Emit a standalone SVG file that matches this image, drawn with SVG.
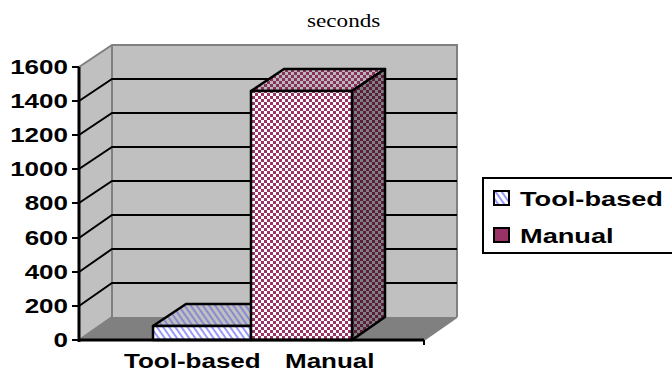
<svg xmlns="http://www.w3.org/2000/svg" width="672" height="374" viewBox="0 0 672 374">
<style>
.lbl{font-family:"Liberation Sans",Arial,sans-serif;font-weight:bold;font-size:20px;fill:#000}
.grid{stroke:#000;stroke-width:2;fill:none}
.edge{stroke:#808080;stroke-width:2;fill:none}
.bar{stroke:#000;stroke-width:2.5;stroke-linejoin:round}
</style>
<defs>
<pattern id="chkFront" width="6" height="6" patternUnits="userSpaceOnUse">
<rect width="6" height="6" fill="#fff"/>
<rect x="0" y="0" width="3" height="3" fill="#993366"/>
<rect x="3" y="3" width="3" height="3" fill="#993366"/>
</pattern>
<pattern id="chkSide" width="6" height="6" patternUnits="userSpaceOnUse">
<rect width="6" height="6" fill="#808080"/>
<rect x="0" y="0" width="3" height="3" fill="#5a1d3b"/>
<rect x="3" y="3" width="3" height="3" fill="#5a1d3b"/>
</pattern>
<pattern id="chkTop" width="6" height="6" patternUnits="userSpaceOnUse">
<rect width="6" height="6" fill="#b8b8b8"/>
<rect x="0" y="0" width="3" height="3" fill="#8a2e5c"/>
<rect x="3" y="3" width="3" height="3" fill="#8a2e5c"/>
</pattern>
<pattern id="hatchFront" width="5" height="10" patternUnits="userSpaceOnUse" patternTransform="rotate(-35)">
<rect width="5" height="10" fill="#fff"/>
<rect x="0" y="0" width="2" height="10" fill="#9999ff"/>
</pattern>
<pattern id="hatchTop" width="5" height="10" patternUnits="userSpaceOnUse" patternTransform="rotate(-35)">
<rect width="5" height="10" fill="#c0c0c0"/>
<rect x="0" y="0" width="2" height="10" fill="#8a8ad0"/>
</pattern>
</defs>

<g id="title">
<text transform="translate(307,27) scale(1.22,1)" style="font-family:'Liberation Serif','Times New Roman',serif;font-size:19px;fill:#000">seconds</text>
</g>

<g id="walls">
<polygon points="79,67 112,45 112,317 79,340" fill="#c0c0c0"/>
<polygon points="112,45 457,45 457,317 112,317" fill="#c0c0c0"/>
<polygon points="79,340 112,317 457,317 424,340" fill="#808080"/>
<polyline class="edge" points="79,67 112,45 457,45 457,317"/>
<line class="edge" x1="112" y1="45" x2="112" y2="317"/>
<line class="edge" x1="79" y1="340" x2="112" y2="317"/>
<line class="edge" x1="424" y1="340" x2="457" y2="317"/>
</g>

<g id="gridlines">
<polyline class="grid" points="79,101 112,79 457,79"/>
<polyline class="grid" points="79,135 112,113 457,113"/>
<polyline class="grid" points="79,169 112,147 457,147"/>
<polyline class="grid" points="79,203 112,181 457,181"/>
<polyline class="grid" points="79,238 112,215 457,215"/>
<polyline class="grid" points="79,272 112,249 457,249"/>
<polyline class="grid" points="79,306 112,283 457,283"/>
</g>

<g id="bar-toolbased">
<polygon class="bar" points="153,326 186,304 284,304 251,326" fill="url(#hatchTop)"/>
<rect class="bar" x="153" y="326" width="98" height="14" fill="url(#hatchFront)"/>
</g>

<g id="bar-manual">
<polygon class="bar" points="251,91 284,69 385,69 352,91" fill="url(#chkTop)"/>
<polygon class="bar" points="352,91 385,69 385,317 352,340" fill="url(#chkSide)"/>
<rect class="bar" x="251" y="91" width="101" height="249" fill="url(#chkFront)"/>
</g>

<g id="axes">
<line x1="79" y1="67" x2="79" y2="342" stroke="#000" stroke-width="3"/>
<line x1="78" y1="340" x2="424" y2="340" stroke="#000" stroke-width="3"/>
<line x1="424" y1="340" x2="424" y2="345" stroke="#000" stroke-width="2"/>
<g stroke="#000" stroke-width="2">
<line x1="72" y1="67" x2="79" y2="67"/>
<line x1="72" y1="101" x2="79" y2="101"/>
<line x1="72" y1="135" x2="79" y2="135"/>
<line x1="72" y1="169" x2="79" y2="169"/>
<line x1="72" y1="203" x2="79" y2="203"/>
<line x1="72" y1="238" x2="79" y2="238"/>
<line x1="72" y1="272" x2="79" y2="272"/>
<line x1="72" y1="306" x2="79" y2="306"/>
<line x1="72" y1="340" x2="79" y2="340"/>
</g>
<g class="lbl" text-anchor="end">
<text transform="translate(68,74) scale(1.3,1)">1600</text>
<text transform="translate(68,108) scale(1.3,1)">1400</text>
<text transform="translate(68,142) scale(1.3,1)">1200</text>
<text transform="translate(68,176) scale(1.3,1)">1000</text>
<text transform="translate(68,210) scale(1.3,1)">800</text>
<text transform="translate(68,245) scale(1.3,1)">600</text>
<text transform="translate(68,279) scale(1.3,1)">400</text>
<text transform="translate(68,313) scale(1.3,1)">200</text>
<text transform="translate(68,347) scale(1.3,1)">0</text>
</g>
<text class="lbl" transform="translate(124,368) scale(1.3,1)">Tool-based</text>
<text class="lbl" transform="translate(285,368) scale(1.3,1)">Manual</text>
</g>

<g id="legend">
<rect x="483" y="178" width="190" height="75" fill="#fff" stroke="#000" stroke-width="2"/>
<rect x="494" y="191" width="15" height="14" fill="url(#hatchFront)" stroke="#000" stroke-width="2"/>
<text class="lbl" transform="translate(520,206) scale(1.36,1)">Tool-based</text>
<rect x="494" y="228" width="15" height="14" fill="#993366" stroke="#000" stroke-width="2"/>
<text class="lbl" transform="translate(520,243) scale(1.36,1)">Manual</text>
</g>
</svg>
